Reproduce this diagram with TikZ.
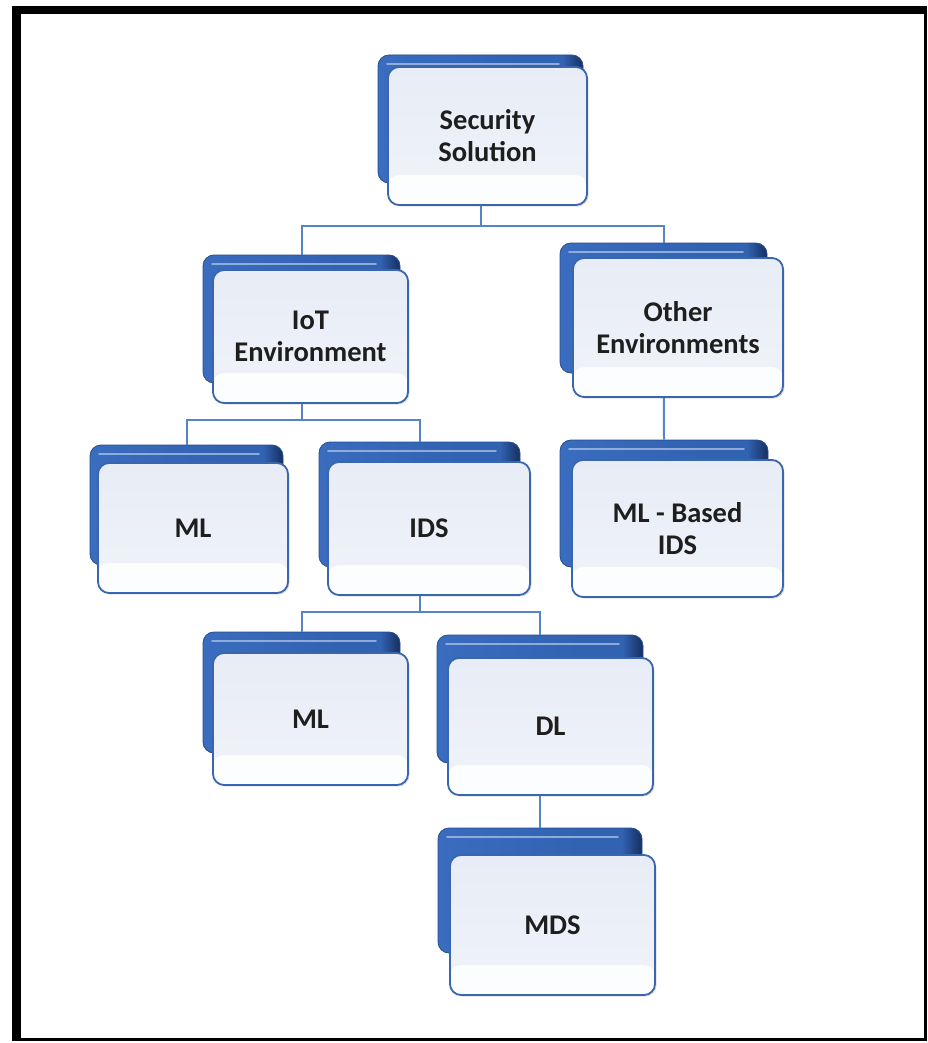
\documentclass[tikz,border=0pt]{standalone}
\usepackage{fontspec}
\setmainfont{Carlito}
\usetikzlibrary{shadows}

\definecolor{backL}{HTML}{3A6CBF}
\definecolor{backM}{HTML}{3262B2}
\definecolor{backR}{HTML}{152F60}
\definecolor{frontTop}{HTML}{E8ECF6}
\definecolor{frontBot}{HTML}{F0F3F9}
\definecolor{frontRim}{HTML}{3A66AD}
\definecolor{linkBlue}{HTML}{5585C8}
\definecolor{labelInk}{HTML}{1E1E1E}

% blue plate: even blue that darkens only towards the right end
\pgfdeclarehorizontalshading{plateshade}{100bp}{
  color(0bp)=(backL); color(25bp)=(backL); color(60bp)=(backM);
  color(70bp)=(backM); color(75bp)=(backR); color(100bp)=(backR)}

\tikzset{
  backbox/.style={rounded corners=11pt, draw=backM!80!black, line width=0.8pt,
    shading=plateshade,
    path picture={
      \draw[white!55!backL, line width=1.6pt, line cap=round, opacity=.8]
        ([xshift=9pt,yshift=-9pt]path picture bounding box.north west) --
        ([xshift=-24pt,yshift=-9pt]path picture bounding box.north east);
    }},
  frontbox/.style={rounded corners=11pt, draw=frontRim, line width=1.8pt,
    top color=frontTop, bottom color=frontBot,
    drop shadow={shadow xshift=1.5pt, shadow yshift=-1.5pt, opacity=.25},
    path picture={
      \fill[white, opacity=.85]
        (path picture bounding box.south west) rectangle
        ([yshift=30pt]path picture bounding box.south east);
    },
    align=center, text=labelInk,
    font=\bfseries\fontsize{28.5}{32}\selectfont},
  conn/.style={draw=linkBlue, line width=2pt},
  bk/.style 2 args={minimum width=#1pt, minimum height=#2pt},
}

\begin{document}
\begin{tikzpicture}[x=1pt, y=-1pt]
\useasboundingbox (0,0) rectangle (927,1043);
\fill[white] (0,0) rectangle (927,1043);

% outer frame
\fill[black] (12,6) rectangle (21,1041);
\fill[black] (12,6) rectangle (927,14);
\fill[black] (923.5,6) rectangle (926.5,1041);
\fill[black] (12,1037.5) rectangle (926.5,1041);

% junction points of the tree
\coordinate (j1) at (480.5,226);
\coordinate (j2) at (301.5,420);
\coordinate (j3) at (419.5,612);

% back plates
\node[backbox, bk={205}{128}] (ssB)  at (480.5,119) {};
\node[backbox, bk={197}{128}] (iotB) at (301.5,319) {};
\node[backbox, bk={207}{130}] (othB) at (663.5,308) {};
\node[backbox, bk={193}{120}] (ml1B) at (186.5,505) {};
\node[backbox, bk={201}{125}] (idsB) at (419.5,504.5) {};
\node[backbox, bk={208}{127}] (mlbB) at (664,503.5) {};
\node[backbox, bk={197}{121}] (ml2B) at (301.5,692.5) {};
\node[backbox, bk={206}{128}] (dlB)  at (540,699) {};
\node[backbox, bk={204}{125}] (mdsB) at (540,890.5) {};

% connectors
\draw[conn] (ssB) -- (j1);
\draw[conn] (iotB.north) |- (j1) -| (othB.north);
\draw[conn] (iotB) -- (j2);
\draw[conn] (ml1B.north) |- (j2) -| (idsB.north);
\draw[conn] (idsB) -- (j3);
\draw[conn] (ml2B.north) |- (j3) -| (dlB.north);
\draw[conn] (othB) -- (mlbB.north);
\draw[conn] (dlB) -- (mdsB.north);

% front plates with labels
\node[frontbox, bk={199}{138}] (ss)  at (487.5,136) {Security\\Solution};
\node[frontbox, bk={195}{133}] (iot) at (310.5,336.5) {IoT\\Environment};
\node[frontbox, bk={210}{139}] (oth) at (678,327.5) {Other\\Environments};
\node[frontbox, bk={190}{130}] (ml1) at (193,528) {ML};
\node[frontbox, bk={202}{133}] (ids) at (429,528.5) {IDS};
\node[frontbox, bk={211}{137}] (mlb) at (677.5,528.5) {ML - Based\\IDS};
\node[frontbox, bk={195}{132}] (ml2) at (310.5,719) {ML};
\node[frontbox, bk={205}{137}] (dl)  at (550.5,726.5) {DL};
\node[frontbox, bk={205}{140}] (mds) at (552.5,925) {MDS};
\end{tikzpicture}
\end{document}
